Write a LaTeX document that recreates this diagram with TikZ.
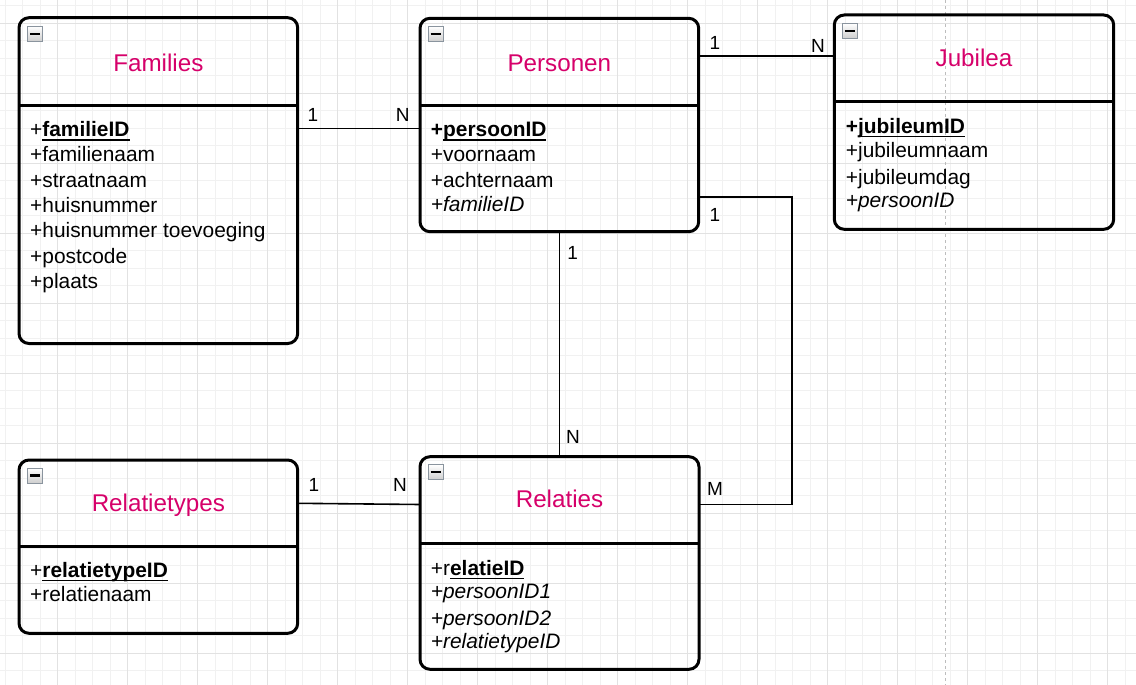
\documentclass[tikz,border=0pt]{standalone}
\usepackage{fontspec}
\setmainfont{Liberation Sans}
\usetikzlibrary{calc}
\definecolor{titlecol}{HTML}{D6006A}
\definecolor{gridminor}{HTML}{F1F1F1}
\definecolor{gridmajor}{HTML}{E2E2E2}
\definecolor{pagebrk}{HTML}{BDBDBD}
\definecolor{iconborder}{HTML}{8A949E}
\newcommand\myul[1]{\setbox0\hbox{#1}\rlap{\rule[-4pt]{\wd0}{1.4pt}}\box0}
\tikzset{
  entity/.style={draw=black, line width=3pt, rounded corners=10pt, inner sep=0pt, outer sep=0pt},
  divider/.style={draw=black, line width=3pt},
  iconbox/.style={draw=iconborder, line width=1pt, top color=white, bottom color=gray!38, minimum size=15pt, inner sep=0pt},
  title/.style={text=titlecol, font=\fontsize{24.2}{28}\selectfont, anchor=base, inner sep=0pt},
  attr/.style={text=black, font=\fontsize{20.9}{24}\selectfont, anchor=base west, inner sep=0pt},
  card/.style={text=black, font=\fontsize{19}{22}\selectfont, inner sep=0pt},
  conn/.style={draw=black, line width=1.6pt}
}
\begin{document}
\begin{tikzpicture}[x=1pt,y=-1pt]
\useasboundingbox (0,0) rectangle (1136,685);
\clip (0,0) rectangle (1136,685);
\fill[white] (0,0) rectangle (1136,685);
% grid
\foreach \i in {0,...,64}{\pgfmathsetmacro\xx{5.2+17.5*\i}\draw[gridminor, line width=1pt] (\xx,0) -- (\xx,685);}
\foreach \i in {0,...,38}{\pgfmathsetmacro\yy{5.8+17.5*\i}\draw[gridminor, line width=1pt] (0,\yy) -- (1136,\yy);}
\foreach \i in {0,...,15}{\pgfmathsetmacro\xx{57.7+70*\i}\draw[gridmajor, line width=1pt] (\xx,0) -- (\xx,685);}
\foreach \i in {0,...,9}{\pgfmathsetmacro\yy{23.3+70*\i}\draw[gridmajor, line width=1pt] (0,\yy) -- (1136,\yy);}
\draw[pagebrk, line width=1pt, dash pattern=on 3pt off 3pt] (945.7,0) -- (945.7,685);

% entities
\node[entity, minimum width=278.7pt, minimum height=325.8pt] (fam) at (158.35,180.6) {};
\node[entity, minimum width=278.7pt, minimum height=213.4pt] (pers) at (559.35,125) {};
\node[entity, minimum width=279.4pt, minimum height=214.3pt] (jub) at (974,122.15) {};
\node[entity, minimum width=278.7pt, minimum height=173.3pt] (rt) at (158.35,546.65) {};
\node[entity, minimum width=279pt, minimum height=212.6pt] (rel) at (559.5,563) {};

% dividers
\draw[divider] ($(fam.north west)+(0,88.3)$) -- ($(fam.north east)+(0,88.3)$);
\draw[divider] ($(pers.north west)+(0,87.7)$) -- ($(pers.north east)+(0,87.7)$);
\draw[divider] ($(jub.north west)+(0,86.7)$) -- ($(jub.north east)+(0,86.7)$);
\draw[divider] ($(rt.north west)+(0,86.7)$) -- ($(rt.north east)+(0,86.7)$);
\draw[divider] ($(rel.north west)+(0,86.6)$) -- ($(rel.north east)+(0,86.6)$);

% collapse icons
\node[iconbox] (famicon) at ($(fam.north west)+(16,16)$) {\rule[-1.1pt]{10pt}{2.2pt}};
\node[iconbox] (persicon) at ($(pers.north west)+(15.5,15.5)$) {\rule[-1.1pt]{10pt}{2.2pt}};
\node[iconbox] (jubicon) at ($(jub.north west)+(15.5,15.8)$) {\rule[-1.1pt]{10pt}{2.2pt}};
\node[iconbox] (rticon) at ($(rt.north west)+(16,15.5)$) {\rule[-1.1pt]{10pt}{2.2pt}};
\node[iconbox] (relicon) at ($(rel.north west)+(15.5,15.5)$) {\rule[-1.1pt]{10pt}{2.2pt}};

% titles
\node[title] (famt) at (158.35,71) {Families};
\node[title] (perst) at (559.35,71) {Personen};
\node[title] (jubt) at (974,66.7) {Jubilea};
\node[title] (rtt) at (158.35,511.7) {Relatietypes};
\node[title] (relt) at (559.5,507.7) {Relaties};

% Families attributes
\node[attr] (fa1) at (30,136.7) {+\textbf{\myul{familieID}}};
\node[attr] (fa2) at (30,161.7) {+familienaam};
\node[attr] (fa3) at (30,187.3) {+straatnaam};
\node[attr] (fa4) at (30,212.6) {+huisnummer};
\node[attr] (fa5) at (30,237.9) {+huisnummer toevoeging};
\node[attr] (fa6) at (30,263.2) {+postcode};
\node[attr] (fa7) at (30,288.5) {+plaats};

% Personen attributes
\node[attr] (pa1) at (430.7,136.7) {\textbf{+\myul{persoonID}}};
\node[attr] (pa2) at (430.7,161.7) {+voornaam};
\node[attr] (pa3) at (430.7,187.3) {+achternaam};
\node[attr] (pa4) at (430.7,211.7) {\itshape +familieID};

% Jubilea attributes
\node[attr] (ja1) at (845.7,133.3) {\textbf{+\myul{jubileumID}}};
\node[attr] (ja2) at (845.7,157.3) {+jubileumnaam};
\node[attr] (ja3) at (845.7,184.3) {+jubileumdag};
\node[attr] (ja4) at (845.7,207.3) {\itshape +persoonID};

% Relatietypes attributes
\node[attr] (ra1) at (30,577.3) {+\textbf{\myul{relatietypeID}}};
\node[attr] (ra2) at (30,601.7) {+relatienaam};

% Relaties attributes
\node[attr] (la1) at (430.7,575) {+r\textbf{\myul{elatieID}}};
\node[attr] (la2) at (430.7,598.3) {\itshape +persoonID1};
\node[attr] (la3) at (430.7,625) {\itshape +persoonID2};
\node[attr] (la4) at (430.7,648.3) {\itshape +relatietypeID};

% connectors
\coordinate (fp) at (0,128.3);
\draw[conn] (fam.east |- fp) -- (pers.west |- fp);
\node[card] (fp1) at (313,115) {1};
\node[card] (fpn) at (402.7,115) {N};

\coordinate (pj) at (0,56);
\draw[conn] (pers.east |- pj) -- (jub.west |- pj);
\node[card] (pj1) at (715,43.3) {1};
\node[card] (pjn) at (818,45.7) {N};

\draw[conn] (pers.south) -- (pers.south |- rel.north);
\node[card] (pr1) at (572.7,253) {1};
\node[card] (prn) at (573,437) {N};

\coordinate (l1) at (791.7,196.7);
\coordinate (l2) at (791.7,504.3);
\draw[conn] (pers.east |- l1) -- (l1) -- (l2) -- (rel.east |- l2);
\node[card] (pm1) at (715,215) {1};
\node[card] (pmm) at (715,489) {M};

\coordinate (r1) at (0,503.3);
\coordinate (r2) at (0,504.5);
\draw[conn] (rt.east |- r1) -- (rel.west |- r2);
\node[card] (rr1) at (314,485) {1};
\node[card] (rrn) at (400,485) {N};
\end{tikzpicture}
\end{document}
